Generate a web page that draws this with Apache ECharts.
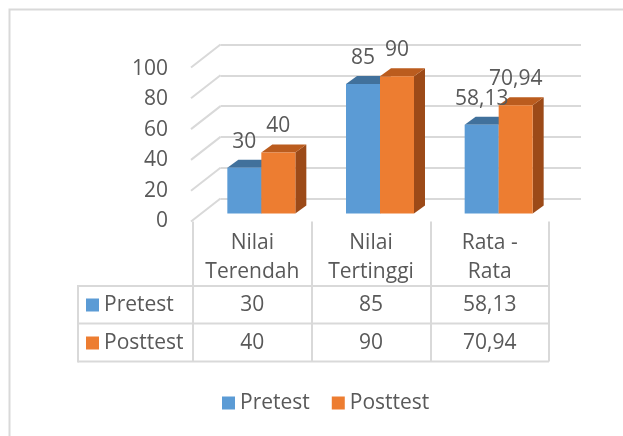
<!DOCTYPE html>
<html><head><meta charset="utf-8">
<script src="https://cdn.jsdelivr.net/npm/echarts@6/dist/echarts.min.js"></script>
<style>html,body{margin:0;padding:0;background:#fff}#c{width:623px;height:436px}</style>
</head><body><div id="c"></div>
<script>
// ---- data ----
const categories = ['Nilai\nTerendah', 'Nilai\nTertinggi', 'Rata -\nRata'];
const seriesNames = ['Pretest', 'Posttest'];
const pretest = [30, 85, 58.13];
const posttest = [40, 90, 70.94];
const yTicks = [0, 20, 40, 60, 80, 100];

// ---- style ----
const FONT = '"Open Sans", sans-serif';
const FS = 21;
const TXT = '#595959';
const LINE = '#d9d9d9';
const faces = [
  { front: '#5b9bd5', top: '#41719c', side: '#3d6a94' },
  { front: '#ed7d31', top: '#bb5c1e', side: '#9c4a18' }
];
const SHIFT_X = 9, SHIFT_Y = -8, BAR_W = 34, DX = 11, DY = -8;
const WALL_DX = 29.5, WALL_DY = 23;
const rowY = [305, 343];
const fmt = v => String(v).replace('.', ',');

function barRender(si) {
  return function (params, api) {
    const i = api.value(0), v = api.value(1);
    const base = api.coord([i, 0]);
    const top = api.coord([i, v]);
    const x0 = base[0] + SHIFT_X - (si === 0 ? BAR_W : 0);
    const yb = base[1] + SHIFT_Y, yt = top[1] + SHIFT_Y;
    const c = faces[si];
    return { type: 'group', children: [
      { type: 'polygon', shape: { points: [[x0 + BAR_W, yt], [x0 + BAR_W + DX, yt + DY], [x0 + BAR_W + DX, yb + DY], [x0 + BAR_W, yb]] }, style: { fill: c.side } },
      { type: 'polygon', shape: { points: [[x0, yt], [x0 + BAR_W, yt], [x0 + BAR_W + DX, yt + DY], [x0 + DX, yt + DY]] }, style: { fill: c.top } },
      { type: 'rect', shape: { x: x0, y: yt, width: BAR_W, height: yb - yt }, style: { fill: c.front } },
      { type: 'text', z2: 100, style: { text: fmt(v), x: x0 + BAR_W / 2, y: yt - 26, align: 'center', verticalAlign: 'middle', textAlign: 'center', textVerticalAlign: 'middle', font: FS + 'px ' + FONT, fill: TXT } }
    ] };
  };
}
function tableRender(si) {
  return function (params, api) {
    const i = api.value(0), v = api.value(1);
    const p = api.coord([i, 0]);
    return { type: 'text', style: { text: fmt(v), x: p[0], y: rowY[si], align: 'center', verticalAlign: 'middle', textAlign: 'center', textVerticalAlign: 'middle', font: FS + 'px ' + FONT, fill: TXT } };
  };
}
function wallRender(params, api) {
  const p = api.coord([0, api.value(1)]);
  const x = params.coordSys.x;
  return { type: 'line', shape: { x1: x - WALL_DX, y1: p[1] + WALL_DY, x2: x, y2: p[1] }, style: { stroke: LINE, lineWidth: 2 } };
}

const legendBase = { icon: 'rect', itemWidth: 13, itemHeight: 13, selectedMode: false, padding: 0,
  textStyle: { fontFamily: FONT, fontSize: FS, color: TXT, lineHeight: 24 } };

const chart = echarts.init(document.getElementById('c'), null, { renderer: 'canvas' });
chart.setOption({
  animation: false,
  backgroundColor: '#fff',
  grid: [
    { left: 193, top: 69, width: 356, height: 152.5, outerBoundsMode: 'none' },
    { left: 220.5, top: 44.5, width: 360.5, height: 154, outerBoundsMode: 'none' }
  ],
  xAxis: [
    { type: 'category', gridIndex: 0, data: categories,
      axisLine: { show: false },
      axisTick: { show: true, length: 140, interval: 0, lineStyle: { color: LINE, width: 2 } },
      axisLabel: { interval: 0, margin: 7, fontFamily: FONT, fontSize: FS, lineHeight: 29, color: TXT } },
    { type: 'category', gridIndex: 1, data: categories, show: false }
  ],
  yAxis: [
    { type: 'value', gridIndex: 0, min: 0, max: 100, interval: 20,
      axisLine: { show: false }, axisTick: { show: false }, splitLine: { show: false },
      axisLabel: { margin: 25, fontFamily: FONT, fontSize: FS, color: TXT } },
    { type: 'value', gridIndex: 1, min: 0, max: 100, interval: 20,
      axisLine: { show: false }, axisTick: { show: false }, axisLabel: { show: false },
      splitLine: { show: true, lineStyle: { color: LINE, width: 2 } } }
  ],
  legend: [
    Object.assign({ data: seriesNames, left: 222, top: 391, itemGap: 22 }, legendBase),
    Object.assign({ data: [seriesNames[0]], left: 86, top: rowY[0] - 12 }, legendBase),
    Object.assign({ data: [seriesNames[1]], left: 86, top: rowY[1] - 12 }, legendBase)
  ],
  graphic: [
    { type: 'rect', shape: { x: 9.5, y: 9.5, width: 900, height: 900 }, style: { fill: 'none', stroke: LINE, lineWidth: 2 }, silent: true },
    { type: 'line', shape: { x1: 78, y1: 286, x2: 549, y2: 286 }, style: { stroke: LINE, lineWidth: 2 } },
    { type: 'line', shape: { x1: 78, y1: 323.5, x2: 549, y2: 323.5 }, style: { stroke: LINE, lineWidth: 2 } },
    { type: 'line', shape: { x1: 78, y1: 361.5, x2: 549, y2: 361.5 }, style: { stroke: LINE, lineWidth: 2 } },
    { type: 'line', shape: { x1: 78, y1: 285, x2: 78, y2: 362.5 }, style: { stroke: LINE, lineWidth: 2 } }
  ],
  series: [
    { type: 'custom', name: 'wall', xAxisIndex: 1, yAxisIndex: 1, renderItem: wallRender, data: yTicks.map(t => [0, t]), silent: true },
    { type: 'custom', name: seriesNames[0], xAxisIndex: 0, yAxisIndex: 0, renderItem: barRender(0), itemStyle: { color: faces[0].front }, data: pretest.map((v, i) => [i, v]) },
    { type: 'custom', name: seriesNames[1], xAxisIndex: 0, yAxisIndex: 0, renderItem: barRender(1), itemStyle: { color: faces[1].front }, data: posttest.map((v, i) => [i, v]) },
    { type: 'custom', name: 'tPre', xAxisIndex: 0, yAxisIndex: 0, renderItem: tableRender(0), data: pretest.map((v, i) => [i, v]), silent: true },
    { type: 'custom', name: 'tPost', xAxisIndex: 0, yAxisIndex: 0, renderItem: tableRender(1), data: posttest.map((v, i) => [i, v]), silent: true }
  ]
});
</script>
</body></html>
